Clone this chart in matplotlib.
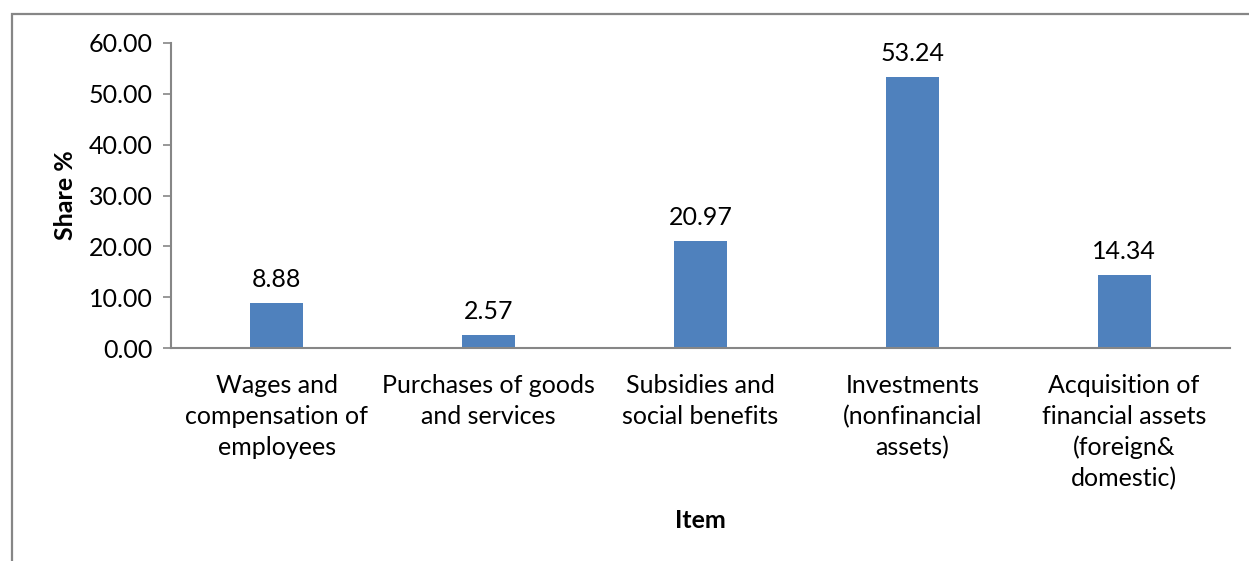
import numpy as np
import matplotlib.pyplot as plt
from matplotlib.patches import Rectangle

plt.rcParams['font.family'] = ['Lato', 'DejaVu Sans']

items = ['Wages and\ncompensation of\nemployees',
         'Purchases of goods\nand services',
         'Subsidies and\nsocial benefits',
         'Investments\n(nonfinancial\nassets)',
         'Acquisition of\nfinancial assets\n(foreign&\ndomestic)']
share = [8.88, 2.57, 20.97, 53.24, 14.34]
yticks = [0, 10, 20, 30, 40, 50, 60]

grey = '#868686'
fs = 18

fig = plt.figure(figsize=(12.49, 5.61), dpi=100)
# chart frame, runs off the right and bottom edges
fig.patches.append(Rectangle((12 / 1249, -0.05), 1.1, 0.975 + 0.05,
                             transform=fig.transFigure, fill=False,
                             edgecolor=grey, linewidth=1.6))

ax = fig.add_axes([171 / 1249, 1 - 348 / 561, (1230 - 171) / 1249, (348 - 43) / 561])
x = np.arange(len(items))
bars = ax.bar(x, share, width=0.25, color='#4F81BD')

for xi, v in zip(x, share):
    ax.text(xi, v + 2.4, f'{v:.2f}', ha='center', va='bottom', fontsize=fs)

ax.set_xlim(-0.5, len(items) - 0.5)
ax.set_ylim(0, 60)
ax.set_yticks(yticks)
ax.set_yticklabels([f'{t:.2f}' for t in yticks], fontsize=fs)
ax.set_xticks(x)
ax.set_xticklabels(items, fontsize=fs, linespacing=1.4)
ax.tick_params(axis='x', length=0, pad=19)
ax.tick_params(axis='y', length=6, width=1.2, color=grey, pad=7)

for s in ['top', 'right']:
    ax.spines[s].set_visible(False)
for s in ['left', 'bottom']:
    ax.spines[s].set_color(grey)
    ax.spines[s].set_linewidth(1.5)

ax.set_ylabel('Share %', fontsize=fs, fontweight='bold')
ax.yaxis.set_label_coords(-0.089, 0.5)
fig.text(700 / 1249, 1 - 521 / 561, 'Item', ha='center', va='center',
         fontsize=fs, fontweight='bold')

fig.savefig('out.png', dpi=100)
